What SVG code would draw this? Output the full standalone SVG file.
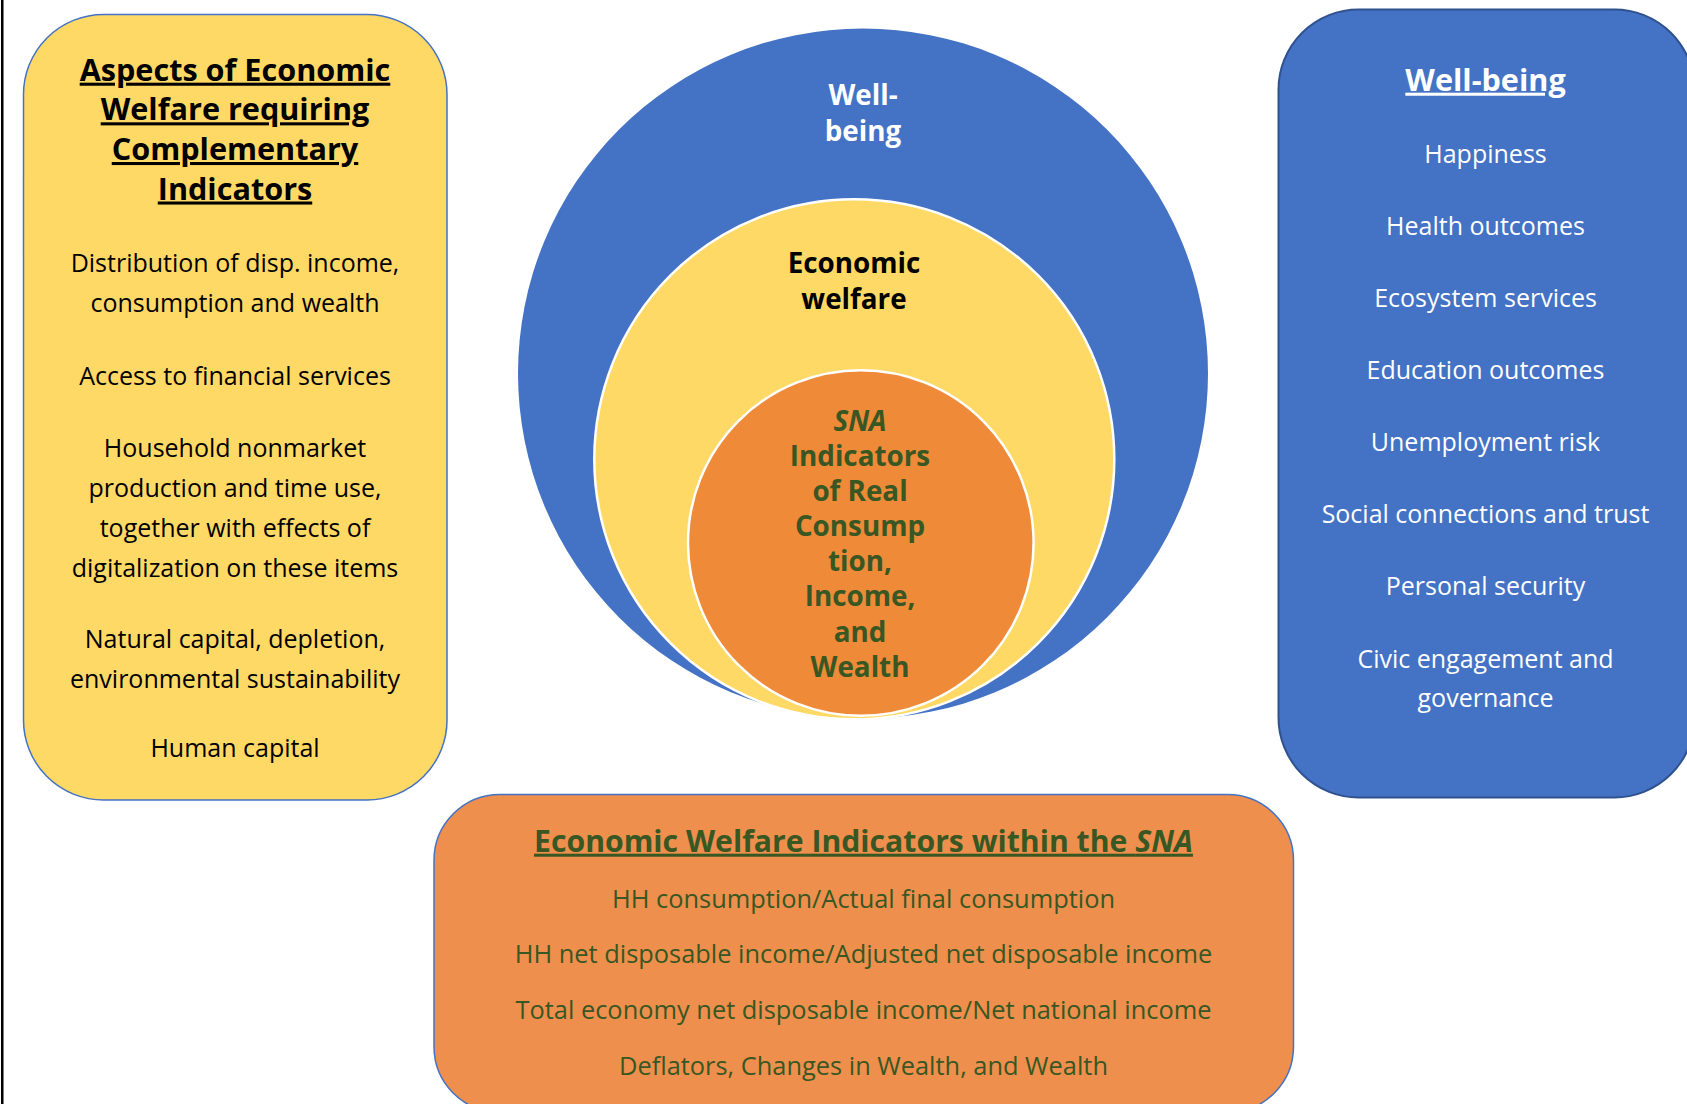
<svg xmlns="http://www.w3.org/2000/svg" width="1687" height="1104" viewBox="0 0 1687 1104">
  <style>
    text { font-family: "Open Sans", "Noto Sans", "DejaVu Sans", sans-serif; text-anchor: middle; }
    .title { font-size: 30.6px; font-weight: 700; text-decoration: underline; }
    .body { font-size: 25px; font-weight: 400; }
    .blk { fill: #000000; }
    .wht { fill: #FFFFFF; }
    .grn { fill: #385723; }
    .circ { font-size: 27.8px; font-weight: 700; }
    .btitle { font-size: 30.2px; font-weight: 700; text-decoration: underline; }
    .bbody { font-size: 25.4px; font-weight: 400; }
  </style>
  <rect x="0" y="0" width="1687" height="1104" fill="#FFFFFF"/>
  <rect x="1" y="0" width="2.5" height="1104" fill="#000000"/>

  <g id="node-circle-wellbeing">
    <circle cx="863" cy="373.5" r="345" fill="#4472C4"/>
    <text class="circ wht" x="863" y="105">Well-</text>
    <text class="circ wht" x="863" y="140.5">being</text>
  </g>
  <g id="node-circle-welfare">
    <circle cx="854.3" cy="459.3" r="260" fill="#FFD966" stroke="#FFFFFF" stroke-width="2.5"/>
    <text class="circ blk" x="854" y="273">Economic</text>
    <text class="circ blk" x="854" y="308.5">welfare</text>
  </g>
  <g id="node-circle-sna">
    <circle cx="860.8" cy="543" r="172.8" fill="#EE8A38" stroke="#FFFFFF" stroke-width="2.5"/>
    <text class="circ grn" x="860" y="430.5" font-style="italic">SNA</text>
    <text class="circ grn" x="860" y="465.5">Indicators</text>
    <text class="circ grn" x="860" y="500.5">of Real</text>
    <text class="circ grn" x="860" y="536">Consump</text>
    <text class="circ grn" x="860" y="571">tion,</text>
    <text class="circ grn" x="860" y="606">Income,</text>
    <text class="circ grn" x="860" y="641.5">and</text>
    <text class="circ grn" x="860" y="676.5">Wealth</text>
  </g>

  <g id="node-left">
    <rect x="23.5" y="14.5" width="423.5" height="785.5" rx="80" ry="80" fill="#FFD966" stroke="#4472C4" stroke-width="1.5"/>
    <text class="title blk" x="235" y="80.7">Aspects of Economic</text>
    <text class="title blk" x="235" y="120.3">Welfare requiring</text>
    <text class="title blk" x="235" y="160">Complementary</text>
    <text class="title blk" x="235" y="199.5">Indicators</text>
    <text class="body blk" x="235" y="272">Distribution of disp. income,</text>
    <text class="body blk" x="235" y="311.5">consumption and wealth</text>
    <text class="body blk" x="235" y="384.5">Access to financial services</text>
    <text class="body blk" x="235" y="457">Household nonmarket</text>
    <text class="body blk" x="235" y="496.5">production and time use,</text>
    <text class="body blk" x="235" y="536.5">together with effects of</text>
    <text class="body blk" x="235" y="576.5">digitalization on these items</text>
    <text class="body blk" x="235" y="648">Natural capital, depletion,</text>
    <text class="body blk" x="235" y="687.5">environmental sustainability</text>
    <text class="body blk" x="235" y="757">Human capital</text>
  </g>

  <g id="node-right">
    <rect x="1278.5" y="9.5" width="416" height="788" rx="80" ry="80" fill="#4472C4" stroke="#2F528F" stroke-width="2"/>
    <text class="title wht" x="1485.5" y="90.7">Well-being</text>
    <text class="body wht" x="1485.5" y="163">Happiness</text>
    <text class="body wht" x="1485.5" y="235">Health outcomes</text>
    <text class="body wht" x="1485.5" y="307">Ecosystem services</text>
    <text class="body wht" x="1485.5" y="379">Education outcomes</text>
    <text class="body wht" x="1485.5" y="451">Unemployment risk</text>
    <text class="body wht" x="1485.5" y="523">Social connections and trust</text>
    <text class="body wht" x="1485.5" y="595">Personal security</text>
    <text class="body wht" x="1485.5" y="667.5">Civic engagement and</text>
    <text class="body wht" x="1485.5" y="707">governance</text>
  </g>

  <g id="node-bottom">
    <rect x="434" y="794.5" width="859.5" height="318" rx="66" ry="66" fill="#EF8F4D" stroke="#4472C4" stroke-width="1.5"/>
    <text class="btitle grn" x="863.5" y="851.7">Economic Welfare Indicators within the <tspan font-style="italic">SNA</tspan></text>
    <text class="bbody grn" x="863.5" y="907.7">HH consumption/Actual final consumption</text>
    <text class="bbody grn" x="863.5" y="963.3">HH net disposable income/Adjusted net disposable income</text>
    <text class="bbody grn" x="863.5" y="1019">Total economy net disposable income/Net national income</text>
    <text class="bbody grn" x="863.5" y="1075">Deflators, Changes in Wealth, and Wealth</text>
  </g>

  <g id="connectors"></g>
</svg>
